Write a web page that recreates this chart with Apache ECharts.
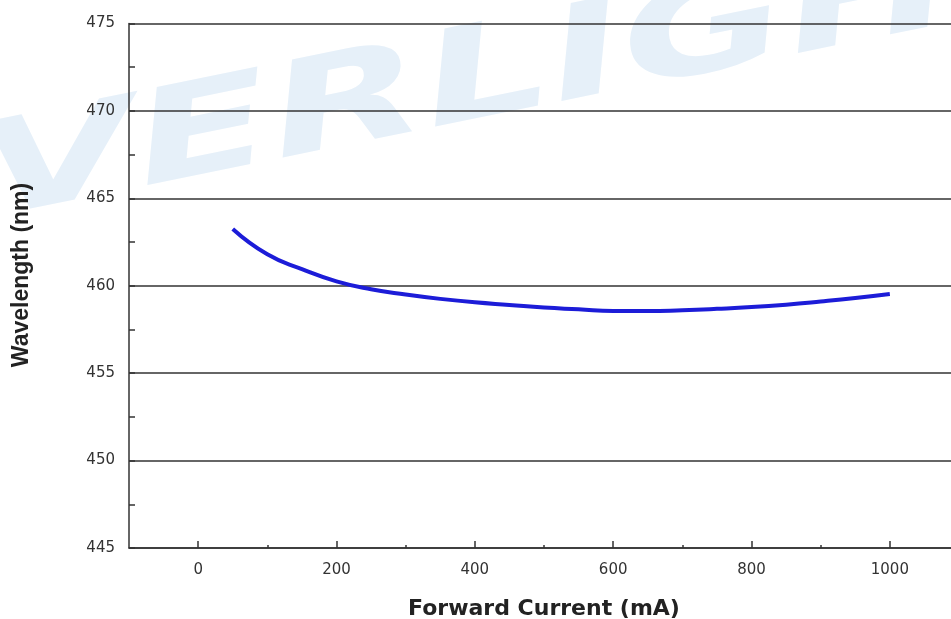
<!DOCTYPE html>
<html>
<head>
<meta charset="utf-8">
<script src="https://cdn.jsdelivr.net/npm/echarts@6/dist/echarts.min.js"></script>
<style>
html,body{margin:0;padding:0;background:#fff;}
#chart{width:951px;height:619px;}
</style>
</head>
<body>
<div id="chart"></div>
<script>
const currents = [50, 100, 150, 200, 250, 300, 350, 400, 450, 500, 550, 600, 650, 700, 750, 800, 850, 900, 950, 1000];
const wavelengths = [463.25, 461.8, 460.95, 460.25, 459.8, 459.5, 459.25, 459.05, 458.9, 458.75, 458.65, 458.55, 458.55, 458.6, 458.68, 458.78, 458.92, 459.1, 459.3, 459.53];
const xMajorTicks = [0, 200, 400, 600, 800, 1000];
const xMinorTicks = [100, 300, 500, 700, 900];
const xTitle = 'Forward Current (mA)';
const yTitle = 'Wavelength (nm)';
const watermark = 'EVERLIGHT';

const chart = echarts.init(document.getElementById('chart'), null, {renderer: 'canvas'});
const labelFont = {fontFamily: 'DejaVu Sans', fontSize: 15, color: '#333'};
chart.setOption({
  animation: false,
  backgroundColor: '#fff',
  graphic: [{
    type: 'text', z: -10, silent: true,
    x: -165, y: 148, rotation: 0.2, scaleX: 1.33, scaleY: 0.85,
    style: {text: watermark, font: 'italic 900 152px "DejaVu Sans"', fill: '#e6f0f9'}
  }, {
    type: 'text', silent: true,
    x: 22, y: 275, rotation: Math.PI / 2,
    style: {text: yTitle, font: 'bold 23px "Liberation Sans"', fill: '#222', align: 'center', verticalAlign: 'middle'}
  }],
  grid: {left: 129, top: 23.5, width: 830, bottom: 71, containLabel: false, outerBoundsMode: 'none'},
  xAxis: [{
    type: 'value', min: -100, max: 1100,
    name: xTitle, nameLocation: 'middle', nameGap: 50,
    nameTextStyle: {fontFamily: 'DejaVu Sans', fontWeight: 'bold', fontSize: 22, color: '#222'},
    axisLine: {show: true, onZero: false, lineStyle: {color: '#333', width: 1.5}},
    axisTick: {show: true, inside: true, length: 7, customValues: xMajorTicks, lineStyle: {color: '#333', width: 1.5}},
    axisLabel: Object.assign({customValues: xMajorTicks, margin: 15, formatter: v => String(v)}, labelFont),
    splitLine: {show: false}
  }, {
    type: 'value', min: -100, max: 1100, position: 'bottom', offset: 0,
    axisLine: {show: false, onZero: false},
    axisTick: {show: true, inside: true, length: 3, customValues: xMinorTicks, lineStyle: {color: '#333', width: 1.5}},
    axisLabel: {show: false},
    splitLine: {show: false}
  }],
  yAxis: {
    type: 'value', min: 445, max: 475, interval: 5,
    axisLine: {show: true, onZero: false, lineStyle: {color: '#333', width: 1.5}},
    axisTick: {show: true, inside: true, length: 6, lineStyle: {color: '#333', width: 1.5}},
    minorTick: {show: true, splitNumber: 2, length: 6, lineStyle: {color: '#333', width: 1.5}},
    axisLabel: Object.assign({margin: 14}, labelFont),
    splitLine: {show: true, lineStyle: {color: '#333', width: 1.5}}
  },
  series: [{
    type: 'line', xAxisIndex: 0,
    data: currents.map((c, i) => [c, wavelengths[i]]),
    smooth: true, showSymbol: false,
    lineStyle: {color: '#1c1cd8', width: 4}
  }]
});
</script>
</body>
</html>
